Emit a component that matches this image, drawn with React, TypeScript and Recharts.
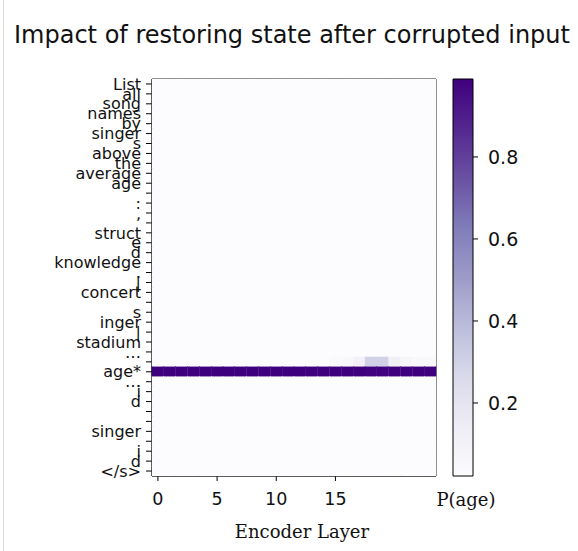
import React from 'react';
import { ScatterChart, Scatter, XAxis, YAxis, ReferenceArea, ComposedChart, Line } from 'recharts';

// token labels, top to bottom
const tokens = [
  'List', 'all', 'song', 'names', 'by', 'singer', 's', 'above', 'the', 'average',
  'age', '', ':', ',', '', 'struct', 'e', 'd', 'knowledge', '.',
  '|', 'concert', '', 's', 'inger', '|', 'stadium', '…', '', 'age*',
  '…', 'i', 'd', '', '', 'singer', '', 'i', 'd', '</s>',
];

// encoder layers 0..23
const layers = [0, 1, 2, 3, 4, 5, 6, 7, 8, 9, 10, 11, 12, 13, 14, 15, 16, 17, 18, 19, 20, 21, 22, 23];
const layerTicks = [0, 5, 10, 15];
const colorbarTicks = [0.2, 0.4, 0.6, 0.8];

// P(age) for most cells is close to the bottom of the scale
const backgroundProb = 0.022;
const ageStarRow = 29;
const ageStarProbs = [
  0.99, 0.99, 0.99, 0.99, 0.99, 0.99, 0.99, 0.99, 0.99, 0.99, 0.99, 0.99,
  0.99, 0.99, 0.99, 0.99, 0.99, 0.99, 0.985, 0.985, 0.99, 0.99, 0.99, 0.99,
];
const prevRow = 28;
const prevRowProbs = [
  0.022, 0.022, 0.022, 0.022, 0.022, 0.022, 0.022, 0.022, 0.022, 0.022, 0.022, 0.022,
  0.022, 0.022, 0.022, 0.05, 0.06, 0.1, 0.3, 0.3, 0.12, 0.07, 0.06, 0.06,
];

const purples = ['#fcfbfd', '#efedf5', '#dadaeb', '#bcbddc', '#9e9ac8', '#807dba', '#6a51a3', '#54278f', '#3f007d'];

const hex = (c: string) => [1, 3, 5].map((i) => parseInt(c.slice(i, i + 2), 16));
const purpleAt = (t: number) => {
  const s = Math.max(0, Math.min(1, t)) * (purples.length - 1);
  const i = Math.min(Math.floor(s), purples.length - 2);
  const f = s - i;
  const a = hex(purples[i]);
  const b = hex(purples[i + 1]);
  const m = a.map((v, k) => Math.round(v + (b[k] - v) * f));
  return `rgb(${m[0]},${m[1]},${m[2]})`;
};

const rowProbs = (r: number) =>
  r === ageStarRow ? ageStarProbs : r === prevRow ? prevRowProbs : layers.map(() => backgroundProb);

const cells = tokens.flatMap((_, r) => rowProbs(r).map((v, c) => ({ layer: layers[c], row: r, p: v })));
const allProbs = cells.map((d) => d.p);
const vmin = Math.min(...allProbs);
const vmax = Math.max(...allProbs);

const W = 578;
const H = 551;
const plotLeft = 152;
const plotRight = 436;
const plotTop = 79;
const plotBottom = 476;
const cellW = (plotRight - plotLeft) / layers.length;
const cellH = (plotBottom - plotTop) / tokens.length;

const Cell = (props: any) => {
  const { cx, cy, payload } = props;
  if (cx == null || cy == null) return null;
  const fill = purpleAt((payload.p - vmin) / (vmax - vmin));
  return <rect x={cx - cellW / 2} y={cy - cellH / 2} width={cellW} height={cellH} fill={fill} stroke={fill} strokeWidth={0.3} />;
};

const sans = 'DejaVu Sans';
const serif = 'DejaVu Serif';
const ink = '#111';

export default function App() {
  return (
    <div style={{ position: 'absolute', left: 0, top: 0, width: W, height: H, background: '#fff' }}>
      <div style={{ position: 'absolute', left: 3, top: 0, width: 1, height: H, background: '#dcdcdc' }} />
      <div
        style={{
          position: 'absolute', left: 0, top: 21, width: 584, textAlign: 'center',
          fontFamily: sans, fontSize: 24, color: ink, whiteSpace: 'nowrap',
        }}
      >
        Impact of restoring state after corrupted input
      </div>

      <div style={{ position: 'absolute', left: 0, top: 0 }}>
        <ScatterChart width={W} height={H} margin={{ left: plotLeft - 96, right: W - plotRight, top: plotTop, bottom: H - plotBottom - 64 }}>
          <XAxis
            type="number"
            dataKey="layer"
            domain={[-0.5, 23.5]}
            ticks={layerTicks}
            interval={0}
            height={64}
            tickSize={5}
            tickMargin={12}
            stroke="#000"
            tick={{ fontSize: 17.5, fill: ink, fontFamily: sans }}
            label={{ value: 'Encoder Layer', position: 'insideBottom', offset: 2, dx: 8, fontSize: 18, fill: ink, fontFamily: serif }}
          />
          <YAxis
            type="number"
            dataKey="row"
            reversed
            domain={[-0.5, tokens.length - 0.5]}
            ticks={tokens.map((_, i) => i)}
            interval={0}
            width={96}
            tickSize={6}
            tickMargin={5}
            stroke="#000"
            tickFormatter={(v: number) => tokens[v]}
            tick={{ fontSize: 16, fill: ink, fontFamily: sans }}
          />
          <Scatter data={cells} shape={<Cell />} isAnimationActive={false} />
          <ReferenceArea x1={-0.5} x2={23.5} y1={-0.5} y2={tokens.length - 0.5} fill="none" stroke="#000" strokeWidth={1} ifOverflow="visible" />
        </ScatterChart>
      </div>

      <div style={{ position: 'absolute', left: 0, top: 0 }}>
        <ComposedChart width={W} height={H} data={[{ x: 0, v: vmin }, { x: 1, v: vmax }]} margin={{ left: 453, right: W - 473 - 70, top: plotTop, bottom: H - plotBottom - 40 }}>
          <defs>
            <linearGradient id="cbGrad" x1="0" y1="0" x2="0" y2="1">
              {purples.map((c, i) => (
                <stop key={i} offset={`${(i / (purples.length - 1)) * 100}%`} stopColor={purples[purples.length - 1 - i]} />
              ))}
            </linearGradient>
          </defs>
          <XAxis
            type="number"
            dataKey="x"
            domain={[0, 1]}
            height={40}
            axisLine={false}
            tickLine={false}
            tick={false}
            label={{ value: 'P(age)', position: 'insideTop', offset: 17, dx: 3, fontSize: 18, fill: ink, fontFamily: serif }}
          />
          <YAxis
            type="number"
            dataKey="v"
            orientation="right"
            domain={[vmin, vmax]}
            ticks={colorbarTicks}
            width={70}
            tickSize={5}
            tickMargin={10}
            axisLine={false}
            stroke="#000"
            tick={{ fontSize: 19, fill: ink, fontFamily: sans, textAnchor: 'start' }}
          />
          <Line dataKey="v" stroke="none" dot={false} activeDot={false} isAnimationActive={false} />
          <ReferenceArea x1={0} x2={1} y1={vmin} y2={vmax} fill="url(#cbGrad)" fillOpacity={1} stroke="#000" strokeWidth={1} ifOverflow="visible" />
        </ComposedChart>
      </div>
    </div>
  );
}
